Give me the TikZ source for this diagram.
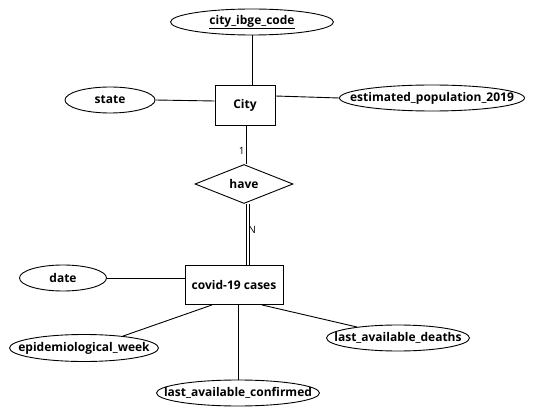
\documentclass[tikz,border=0pt]{standalone}
\usepackage{fontspec}
\setmainfont{Open Sans}
\usetikzlibrary{shapes.geometric}
\newcommand{\zw}[1]{\makebox[0pt]{#1}}
\begin{document}
\begin{tikzpicture}[x=1pt,y=-1pt,line width=0.9pt,
  every node/.style={font=\fontsize{12}{14}\selectfont\bfseries, inner sep=0pt},
  attr/.style={draw, ellipse, minimum height=26pt},
  entity/.style={draw, rectangle},
  rel/.style={draw, diamond, aspect=2.5},
  card/.style={font=\fontsize{10}{12}\selectfont\mdseries}]
\useasboundingbox (0,0) rectangle (536,417);
\node[attr, minimum width=163pt] (ibge) at (252,22) {\zw{\underline{city\_ibge\_code}}};
\node[entity, minimum width=60pt, minimum height=40pt] (city) at (245,105) {City};
\node[attr, minimum width=90pt] (state) at (110,100) {\zw{state}};
\node[attr, minimum width=185pt] (pop) at (432,98) {\zw{estimated\_population\_2019}};
\node[rel, minimum width=98pt, minimum height=39pt] (have) at (244,184) {\zw{have}};
\node[entity, minimum width=98pt, minimum height=39pt] (covid) at (234,285) {\zw{covid-19 cases}};
\node[attr, minimum width=87pt] (date) at (63,278) {\zw{date}};
\node[attr, minimum width=149pt, minimum height=27pt] (epi) at (84,348) {\zw{epidemiological\_week}};
\node[attr, minimum width=143pt] (deaths) at (398,338) {\zw{last\_available\_deaths}};
\node[attr, minimum width=163pt] (conf) at (238,393) {\zw{last\_available\_confirmed}};

\draw (ibge.south -| 252,0) -- (city.north -| 252,0);
\draw (state.east) -- (city.west |- 0,101);
\draw (city.east |- 0,96) -- (pop.west);
\draw (city.south -| 246,0) -- node[card, pos=0.66, left=1pt] {1} (have.north -| 246,0);
\draw[double distance=2.6pt, line width=0.8pt] (have.south -| 248,0) -- node[card, pos=0.42, right=0pt] {N} (covid.north -| 248,0);
\draw (date.east) -- (covid.west |- 0,278);
\draw ([xshift=-22pt]covid.south) -- (epi.17);
\draw ([xshift=28pt]covid.south) -- (deaths.165);
\draw ([xshift=4pt]covid.south) -- (conf.north -| 238,0);
\end{tikzpicture}
\end{document}
